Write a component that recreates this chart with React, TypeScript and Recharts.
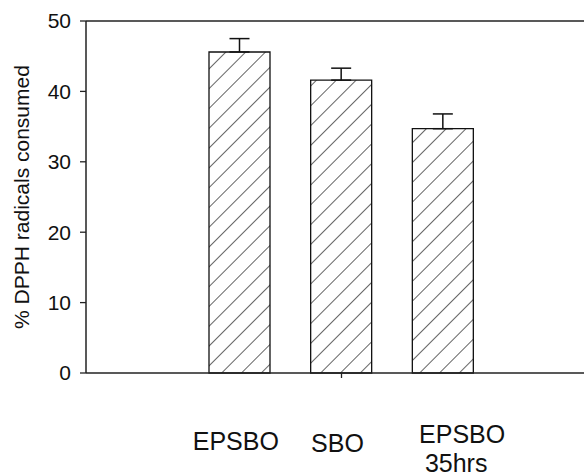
import React from 'react';
import { BarChart, Bar, XAxis, YAxis, ErrorBar, ReferenceLine } from 'recharts';

const categories = ['EPSBO', 'SBO', 'EPSBO 35hrs'];
const categoryLines = [['EPSBO'], ['SBO'], ['EPSBO', '35hrs']];
const values = [45.6, 41.6, 34.7];
const errors = [1.9, 1.7, 2.1];
const yTicks = [0, 10, 20, 30, 40, 50];

const data = categories.map((c, i) => ({ name: c, value: values[i], err: [0, errors[i]] }));

const FONT = '"Liberation Sans", Arial, Helvetica, sans-serif';

// per-label placement tweaks (dx, baseline offsets below axis)
const labelPlacement = [
  { dx: [-4], dy: [76.5] },
  { dx: [-4], dy: [78.7] },
  { dx: [19, 13], dy: [70, 98.5] },
];

const XTick = (props: any) => {
  const { x, y, index } = props;
  const lines = categoryLines[index] || [];
  const pl = labelPlacement[index];
  return (
    <g>
      {index === 1 && <line x1={x} x2={x} y1={y} y2={y + 5} stroke="#222" strokeWidth={1.3} />}
      {lines.map((t, k) => (
        <text key={k} x={x + pl.dx[k]} y={y + pl.dy[k]} textAnchor="middle" fontSize={25} fontFamily={FONT} fill="#111">
          {t}
        </text>
      ))}
    </g>
  );
};

export default function App() {
  return (
    <div style={{ position: 'absolute', left: 0, top: 0, width: 584, height: 475, overflow: 'hidden', background: '#fff' }}>
      <BarChart width={584} height={475} data={data} margin={{ top: 21, right: 0, bottom: 0, left: 0 }} barSize={61}>
        <defs>
          <pattern id="hatch" patternUnits="userSpaceOnUse" width={14} height={14} patternTransform="rotate(45)">
            <rect width={14} height={14} fill="#fff" />
            <line x1={0} y1={0} x2={0} y2={14} stroke="#111" strokeWidth={1.3} />
          </pattern>
        </defs>
        <XAxis
          dataKey="name"
          height={102}
          padding={{ left: 103, right: 90 }}
          tickLine={false}
          tickSize={0}
          tickMargin={0}
          axisLine={{ stroke: '#222', strokeWidth: 1.5 }}
          tick={<XTick />}
          interval={0}
        />
        <YAxis
          width={86}
          domain={[0, 50]}
          ticks={yTicks}
          type="number"
          tickSize={6}
          tickMargin={9}
          axisLine={{ stroke: '#222', strokeWidth: 1.5 }}
          tickLine={{ stroke: '#222', strokeWidth: 1.3 }}
          tick={{ fontSize: 21, fontFamily: FONT, fill: '#111' }}
          label={{
            value: '% DPPH radicals consumed',
            angle: -90,
            position: 'insideLeft',
            offset: 22,
            style: { textAnchor: 'middle', fontSize: 21, fontFamily: FONT, fill: '#111' },
          }}
        />
        <ReferenceLine y={50} stroke="#222" strokeWidth={1.5} />
        <Bar dataKey="value" fill="url(#hatch)" stroke="#111" strokeWidth={1.3} isAnimationActive={false}>
          <ErrorBar dataKey="err" width={10} stroke="#111" strokeWidth={1.5} direction="y" />
        </Bar>
      </BarChart>
    </div>
  );
}
